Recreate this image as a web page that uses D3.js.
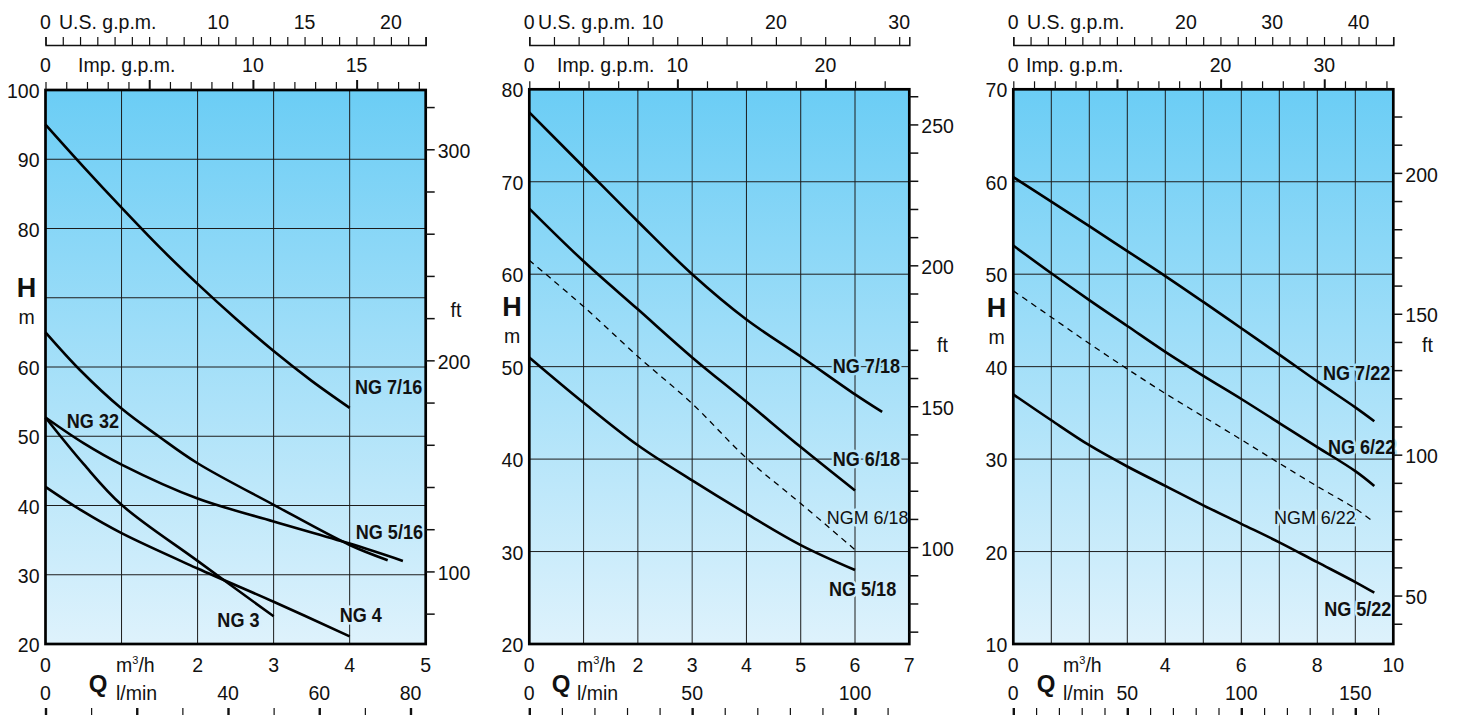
<!DOCTYPE html>
<html>
<head>
<meta charset="utf-8">
<script src="https://cdn.jsdelivr.net/npm/d3@7"></script>
<style>
  body { margin: 0; background: #fff; }
  text { font-family: "Liberation Sans", Arial, Helvetica, sans-serif; fill: #111; }
</style>
</head>
<body>
<svg id="chart" width="1458" height="715"></svg>
<script>
// ---- data: Q in m3/h, H in m ----
// panel 1
const ng716 = [[0, 95], [0.5, 88.9], [1, 83], [1.5, 77.3], [2, 72], [2.5, 67], [3, 62.3], [3.5, 58], [4, 54.1]];
const ng516 = [[0, 65], [0.45, 59.6], [1, 54], [1.5, 49.9], [2, 46.1], [3, 40.1], [4, 34.3], [4.5, 32.1]];
const ng32 = [[0, 52.7], [0.5, 49], [1, 45.9], [2, 41], [3, 37.7], [4, 34.5], [4.7, 32]];
const ng3 = [[0, 52.7], [0.5, 46], [1, 40.1], [2, 32], [3, 24]];
const ng4 = [[0, 42.7], [0.5, 39.1], [1, 36], [2, 30.9], [3, 26.1], [4, 21.1]];
// panel 2
const ng718 = [[0, 77.5], [1, 71.6], [2, 65.7], [3, 60], [4, 55.1], [5, 51.1], [6, 47], [6.5, 45.1]];
const ng618 = [[0, 67.1], [1, 61.4], [2, 56.2], [3, 51], [4, 46.2], [5, 41.3], [6, 36.6]];
const ngm618 = [[0, 61.5], [1, 56.5], [2, 51.1], [3, 46], [4, 40.1], [5, 35.2], [6, 30.2]];
const ng518 = [[0, 51], [1, 46.1], [2, 41.5], [3, 37.7], [4, 34.1], [5, 30.7], [6, 28]];
// panel 3
const ng722 = [[0, 60.5], [1, 57.85], [2, 55.2], [3, 52.5], [4, 49.8], [5, 47], [6, 44.15], [7, 41.3], [8, 38.4], [9, 35.6], [9.5, 34.1]];
const ng622 = [[0, 53.1], [1, 50.1], [2, 47.2], [3, 44.4], [4, 41.6], [5, 39], [6, 36.5], [7, 33.9], [8, 31.3], [9, 28.7], [9.5, 27.1]];
const ngm622 = [[0, 48.2], [1, 45.35], [2, 42.5], [3, 39.75], [4, 37.1], [5, 34.6], [6, 32.1], [7, 29.55], [8, 27.05], [9, 24.65], [9.4, 23.45]];
const ng522 = [[0, 37], [1, 34.2], [2, 31.5], [3, 29.2], [4, 27.1], [5, 25], [6, 23], [7, 21], [8, 18.85], [9, 16.7], [9.5, 15.55]];

// tick labels
const hLabels = [[20, 30, 40, 50, 60, 80, 90, 100], [20, 30, 40, 50, 60, 70, 80], [10, 20, 30, 40, 50, 60, 70]];
const qLabels = [[0, 2, 3, 4, 5], [0, 2, 3, 4, 5, 6, 7], [0, 4, 6, 8, 10]];
const lminLabels = [[0, 40, 60, 80], [0, 50, 100], [0, 50, 100, 150]];
const usLabels = [[0, 10, 15, 20], [0, 10, 20, 30], [0, 20, 30, 40]];
const impLabels = [[0, 10, 15], [0, 10, 20], [0, 20, 30]];
const ftLabels = [[100, 200, 300], [100, 150, 200, 250], [50, 100, 150, 200]];

const M3H_US = 4.40287, M3H_IMP = 3.66615, M3H_LMIN = 16.6667, M_FT = 3.28084;
const TOP_C = "#6bcdf5", BOT_C = "#def2fc";

const panels = [
  { left: 45.5, right: 425.7, top: 90, bottom: 644, qMax: 5, hMin: 20, hMax: 100,
    curves: [ng716, ng516, ng32, ng3, ng4], dashed: [],
    labels: [
      { t: "NG 7/16", q: 4.07, h: 56.1, b: true }, { t: "NG 32", q: 0.28, h: 51.2, b: true },
      { t: "NG 5/16", q: 4.08, h: 35.2, b: true }, { t: "NG 3", q: 2.26, h: 22.45, b: true },
      { t: "NG 4", q: 3.87, h: 23.2, b: true }],
    usStep: 1, impStep: 1, impMajor: 5, lStep: 10, lMajor: 20, ftStep: 20, ftFrom: 80,
    usTx: 59, impTx: 78, hx: 26.5, hy: 297, my: 324, ftx: 456, fty: 317, qx: 98, ux: 116 },
  { left: 529.3, right: 909.3, top: 89.3, bottom: 644, qMax: 7, hMin: 20, hMax: 80,
    curves: [ng718, ng618, ng518], dashed: [ngm618],
    labels: [
      { t: "NG 7/18", q: 5.59, h: 49.3, b: true }, { t: "NG 6/18", q: 5.59, h: 39.25, b: true },
      { t: "NGM 6/18", q: 5.48, h: 33.0, b: false }, { t: "NG 5/18", q: 5.52, h: 25.2, b: true }],
    usStep: 2, impStep: 2, impMajor: 10, lStep: 10, lMajor: 50, ftStep: 10, ftFrom: 70,
    usTx: 538, impTx: 557, hx: 512, hy: 316, my: 343, ftx: 942.5, fty: 351.5, qx: 561, ux: 577 },
  { left: 1013.3, right: 1393.3, top: 89.3, bottom: 644, qMax: 10, hMin: 10, hMax: 70,
    curves: [ng722, ng622, ng522], dashed: [ngm622],
    labels: [
      { t: "NG 7/22", q: 8.15, h: 38.56, b: true }, { t: "NG 6/22", q: 8.28, h: 30.55, b: true },
      { t: "NGM 6/22", q: 6.86, h: 23.0, b: false }, { t: "NG 5/22", q: 8.18, h: 13.03, b: true }],
    usStep: 2, impStep: 2, impMajor: 10, lStep: 10, lMajor: 50, ftStep: 10, ftFrom: 40,
    usTx: 1027, impTx: 1026, hx: 996.5, hy: 316.5, my: 344, ftx: 1427.5, fty: 351.5, qx: 1046, ux: 1063 }
];

const svg = d3.select("#chart");
const defs = svg.append("defs");
const FS = 19.5;

function styleAxis(sel, w) {
  sel.attr("font-family", null).attr("font-size", null);
  sel.selectAll(".tick line").attr("stroke", "#111").attr("stroke-width", w);
  sel.selectAll("path.domain").attr("stroke", "#111").attr("stroke-width", 1.5);
}

function drawPanel(p, i) {
  const x = d3.scaleLinear().domain([0, p.qMax]).range([p.left, p.right]);
  const y = d3.scaleLinear().domain([p.hMin, p.hMax]).range([p.bottom, p.top]);
  const us = d3.scaleLinear().domain([0, p.qMax * M3H_US]).range([p.left, p.right]);
  const imp = d3.scaleLinear().domain([0, p.qMax * M3H_IMP]).range([p.left, p.right]);
  const lm = d3.scaleLinear().domain([0, p.qMax * M3H_LMIN]).range([p.left, p.right]);
  const ft = d3.scaleLinear().domain([p.hMin * M_FT, p.hMax * M_FT]).range([p.bottom, p.top]);
  const bg = d3.scaleLinear().domain([p.top, p.bottom]).range([TOP_C, BOT_C]).interpolate(d3.interpolateRgb);

  const grad = defs.append("linearGradient").attr("id", "bg" + i)
    .attr("gradientUnits", "userSpaceOnUse")
    .attr("x1", 0).attr("x2", 0).attr("y1", p.top).attr("y2", p.bottom);
  grad.append("stop").attr("offset", 0).attr("stop-color", TOP_C);
  grad.append("stop").attr("offset", 1).attr("stop-color", BOT_C);

  const g = svg.append("g");
  g.append("rect").attr("x", p.left).attr("y", p.top)
    .attr("width", p.right - p.left).attr("height", p.bottom - p.top)
    .attr("fill", `url(#bg${i})`);

  // grid
  g.append("g").selectAll("line").data(d3.range(p.hMin + 10, p.hMax, 10)).join("line")
    .attr("x1", p.left).attr("x2", p.right).attr("y1", d => y(d)).attr("y2", d => y(d))
    .attr("stroke", "#1c1c1c").attr("stroke-width", 1);
  g.append("g").selectAll("line").data(d3.range(1, p.qMax)).join("line")
    .attr("x1", d => x(d)).attr("x2", d => x(d)).attr("y1", p.top).attr("y2", p.bottom)
    .attr("stroke", "#1c1c1c").attr("stroke-width", 1);

  // curve labels (with a halo in the background colour that hides the grid)
  p.labels.forEach(l => {
    const px = x(l.q), py = y(l.h);
    g.append("text")
      .attr("transform", `translate(${px},${py}) scale(${l.b ? 0.86 : 0.97},1)`)
      .attr("font-size", l.b ? 21 : 18.5)
      .attr("font-weight", l.b ? "bold" : "normal")
      .attr("stroke", bg(py - 7)).attr("stroke-width", 5).attr("stroke-linejoin", "round")
      .attr("paint-order", "stroke")
      .text(l.t);
  });

  // curves
  const line = d3.line().x(d => x(d[0])).y(d => y(d[1])).curve(d3.curveCatmullRom.alpha(0.5));
  g.append("g").selectAll("path").data(p.curves).join("path")
    .attr("d", line).attr("fill", "none").attr("stroke", "#000").attr("stroke-width", 2.6);
  g.append("g").selectAll("path").data(p.dashed).join("path")
    .attr("d", line).attr("fill", "none").attr("stroke", "#000")
    .attr("stroke-width", 1.3).attr("stroke-dasharray", "6,5");

  // frame
  g.append("rect").attr("x", p.left).attr("y", p.top)
    .attr("width", p.right - p.left).attr("height", p.bottom - p.top)
    .attr("fill", "none").attr("stroke", "#000").attr("stroke-width", 2.7);

  // left H labels
  g.append("g").selectAll("text").data(hLabels[i]).join("text")
    .attr("x", p.left - 6).attr("y", d => y(d) + 8).attr("text-anchor", "end")
    .attr("font-size", FS).text(d => d);

  // right ft axis
  const ftTicks = d3.range(p.ftFrom, p.hMax * M_FT, p.ftStep);
  const ftAx = g.append("g").attr("transform", `translate(${p.right},0)`)
    .call(d3.axisRight(ft).tickValues(ftTicks).tickSize(9).tickPadding(3)
      .tickFormat(d => ftLabels[i].includes(d) ? d : ""));
  styleAxis(ftAx, 1.5);
  ftAx.select("path.domain").remove();
  ftAx.selectAll("text").attr("font-size", FS).attr("dy", "0.42em").attr("fill", "#111");

  // top U.S. gpm axis
  const usAx = g.append("g").attr("transform", "translate(0,45)")
    .call(d3.axisTop(us).tickValues(d3.range(0, p.qMax * M3H_US, p.usStep))
      .tickSize(8).tickSizeOuter(8).tickFormat(""));
  styleAxis(usAx, 1.2);
  g.append("g").selectAll("text").data(usLabels[i]).join("text")
    .attr("x", d => us(d)).attr("y", 29).attr("text-anchor", "middle")
    .attr("font-size", FS).text(d => d);
  g.append("text").attr("x", p.usTx).attr("y", 29).attr("font-size", FS).text("U.S. g.p.m.");

  // Imp. gpm axis on the top frame
  const impTicks = d3.range(0, p.qMax * M3H_IMP, p.impStep);
  const impAx = g.append("g").attr("transform", `translate(0,${p.top})`)
    .call(d3.axisTop(imp).tickValues(impTicks.filter(d => d % p.impMajor !== 0 || d === 0))
      .tickSize(8).tickSizeOuter(0).tickFormat(""));
  styleAxis(impAx, 1.2);
  impAx.select("path.domain").remove();
  const impMaj = g.append("g").attr("transform", `translate(0,${p.top})`)
    .call(d3.axisTop(imp).tickValues(impTicks.filter(d => d % p.impMajor === 0 && d > 0))
      .tickSize(10).tickSizeOuter(0).tickFormat(""));
  styleAxis(impMaj, 2);
  impMaj.select("path.domain").remove();
  g.append("g").selectAll("text").data(impLabels[i]).join("text")
    .attr("x", d => imp(d)).attr("y", 72).attr("text-anchor", "middle")
    .attr("font-size", FS).text(d => d);
  g.append("text").attr("x", p.impTx).attr("y", 72).attr("font-size", FS).text("Imp. g.p.m.");

  // bottom m3/h labels
  g.append("g").selectAll("text").data(qLabels[i]).join("text")
    .attr("x", d => x(d)).attr("y", 672).attr("text-anchor", "middle")
    .attr("font-size", FS).text(d => d);
  const mt = g.append("text").attr("x", p.ux).attr("y", 672).attr("font-size", FS);
  mt.append("tspan").text("m");
  mt.append("tspan").attr("font-size", 11).attr("dy", -8).text("3");
  mt.append("tspan").attr("dy", 8).text("/h");

  // bottom l/min axis
  const lTicks = d3.range(0, p.qMax * M3H_LMIN, p.lStep);
  const lAx = g.append("g").attr("transform", "translate(0,708)")
    .call(d3.axisBottom(lm).tickValues(lTicks.filter(d => d % p.lMajor !== 0))
      .tickSize(9).tickSizeOuter(0).tickFormat(""));
  styleAxis(lAx, 1.2);
  lAx.select("path.domain").remove();
  const lMaj = g.append("g").attr("transform", "translate(0,708)")
    .call(d3.axisBottom(lm).tickValues(lTicks.filter(d => d % p.lMajor === 0))
      .tickSize(9).tickSizeOuter(0).tickFormat(""));
  styleAxis(lMaj, 2.4);
  lMaj.select("path.domain").remove();
  g.append("g").selectAll("text").data(lminLabels[i]).join("text")
    .attr("x", d => lm(d)).attr("y", 700).attr("text-anchor", "middle")
    .attr("font-size", FS).text(d => d);
  g.append("text").attr("x", p.ux).attr("y", 700).attr("font-size", FS).text("l/min");

  // axis titles
  g.append("text").attr("x", p.hx).attr("y", p.hy).attr("text-anchor", "middle")
    .attr("font-size", 27).attr("font-weight", "bold").text("H");
  g.append("text").attr("x", p.hx).attr("y", p.my).attr("text-anchor", "middle")
    .attr("font-size", FS).text("m");
  g.append("text").attr("x", p.ftx).attr("y", p.fty).attr("text-anchor", "middle")
    .attr("font-size", FS).text("ft");
  g.append("text").attr("x", p.qx).attr("y", 692).attr("text-anchor", "middle")
    .attr("font-size", 24).attr("font-weight", "bold").text("Q");
}

panels.forEach(drawPanel);
</script>
</body>
</html>
